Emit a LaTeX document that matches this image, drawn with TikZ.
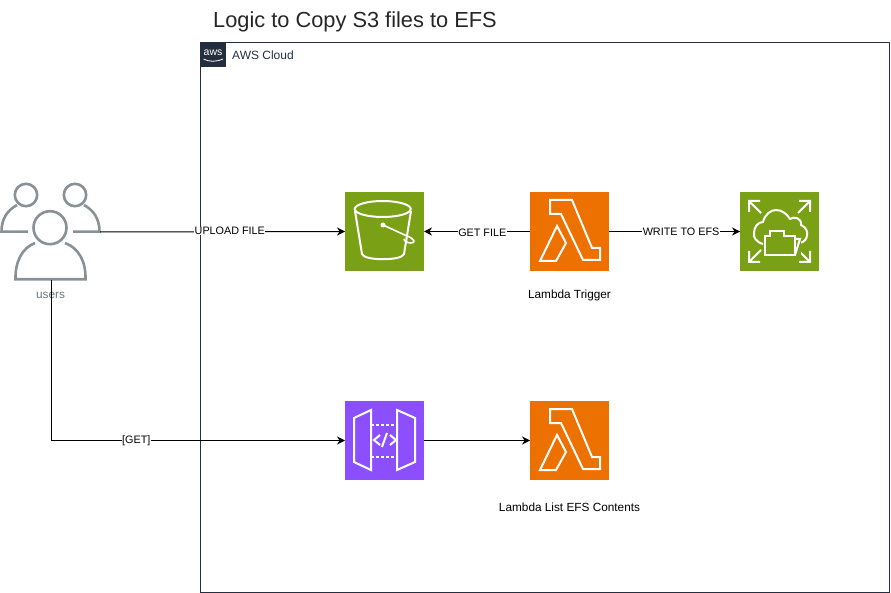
\documentclass[tikz,border=0pt]{standalone}
\usepackage{fontspec}
\setmainfont{Liberation Sans}
\usetikzlibrary{arrows.meta}
\definecolor{awsgreen}{HTML}{7AA116}
\definecolor{awsorange}{HTML}{ED7100}
\definecolor{awspurple}{HTML}{8C4FFF}
\definecolor{awsdark}{HTML}{232F3E}
\definecolor{usergray}{HTML}{879196}
\tikzset{
  iconbox/.style = {shape=rectangle, minimum size=79pt, inner sep=0pt, outer sep=0pt},
  iconline/.style = {draw=white, line width=2pt, line join=miter},
  userline/.style = {draw=usergray, line width=2.6pt},
  link/.style = {draw=black, line width=1pt, -{Stealth[length=8pt,width=8pt]}},
  linklabel/.style = {fill=white, inner sep=0.3pt, font=\fontsize{10.8}{12}\selectfont},
  bucketicon/.pic = {
    \draw[iconline] (37.7,17) ellipse [x radius=28, y radius=8];
    \draw[iconline] (10,19) -- (17,62) .. controls (19,69) and (57,69) .. (59,62) -- (66,19);
    \fill[white] (38,33) circle [radius=2.5];
    \draw[iconline, line width=1.6pt] (38,33) -- (62,44) .. controls (70,47) and (71,51) .. (66,51) .. controls (62,51) and (59,49) .. (59,47);
  },
  lambdaicon/.pic = {
    \draw[iconline] (20,8) -- (42,8) -- (62,56) -- (70,56) -- (70,68) -- (53,68) -- (31,22) -- (20,22) -- cycle;
    \draw[iconline] (10,69) -- (27,34) -- (36,51) -- (26,69) -- cycle;
  },
  efsicon/.pic = {
    \foreach \ang in {0,90,180,270}
      \draw[iconline, rotate around={\ang:(39.5,39.5)}] (21,21) -- (9,9) (9,20) -- (9,9) -- (20,9);
    \draw[iconline] (23,52) .. controls (16,50) and (13,45) .. (14,41) .. controls (14,35) and (18,30) .. (23,30)
      .. controls (25,22) and (31,18) .. (36,18) .. controls (42,18) and (47,22) .. (50,27)
      .. controls (54,24) and (62,26) .. (61,33) .. controls (66,35) and (68,40) .. (67,43)
      .. controls (67,47) and (64,50) .. (60,51);
    \fill[awsgreen] (24,38) rectangle (61,64);
    \draw[iconline] (25,63) -- (25,44) -- (30,44) -- (30,39) -- (44,39) -- (44,44) -- (55,44) -- (55,63) -- cycle;
    \draw[iconline] (55,47) -- (60,47) -- (55,63);
  },
  apiicon/.pic = {
    \draw[iconline] (26,9) -- (9,17) -- (9,61) -- (26,69) -- cycle;
    \draw[iconline] (52,9) -- (70,17) -- (70,61) -- (52,69) -- cycle;
    \draw[iconline, dash pattern=on 3pt off 2pt] (26,24) -- (52,24) (26,56) -- (52,56);
    \draw[iconline] (35,34) -- (29,39) -- (35,44) (45,34) -- (51,39) -- (45,44) (42,32) -- (37,46);
  },
}
\begin{document}
\begin{tikzpicture}[x=1pt, y=-1pt]
  \useasboundingbox (0,0) rectangle (891,593);
  \node[anchor=base west, inner sep=0pt, font=\fontsize{21.8}{24}\selectfont, text=black!85] (title) at (213,28) {Logic to Copy S3 files to EFS};

  % cloud frame
  \node[draw=awsdark, line width=1pt, minimum width=689pt, minimum height=549pt, inner sep=0pt, outer sep=0pt, anchor=north west] (cloud) at (200.5,43) {};
  \node[fill=awsdark, minimum width=25.5pt, minimum height=24.5pt, inner sep=0pt, outer sep=0pt, anchor=north west] (logo) at (cloud.north west) {};
  \node[text=white, inner sep=0pt, font=\fontsize{10.5}{11}\selectfont] (awstext) at (213,52.5) {aws};
  \draw[white, line width=0.8pt] (203.5,59) .. controls (209,62) and (216,62) .. (223,59);
  \node[anchor=west, inner sep=0pt, text=awsdark, font=\fontsize{12}{14}\selectfont] (cloudname) at (232,55.5) {AWS Cloud};

  % services
  \node[iconbox, fill=awsgreen, anchor=north west] (s3) at (345,192) {};
  \node[iconbox, fill=awsorange, anchor=north west] (trigger) at (530,192) {};
  \node[iconbox, fill=awsgreen, anchor=north west] (efs) at (740,192) {};
  \node[iconbox, fill=awspurple, anchor=north west] (api) at (345,401) {};
  \node[iconbox, fill=awsorange, anchor=north west] (listefs) at (530,401) {};
  \pic at (s3.north west) {bucketicon};
  \pic at (trigger.north west) {lambdaicon};
  \pic at (efs.north west) {efsicon};
  \pic at (api.north west) {apiicon};
  \pic at (listefs.north west) {lambdaicon};
  \node[font=\fontsize{11.8}{14}\selectfont, inner sep=0pt] (triggername) at (569.5,295) {Lambda Trigger};
  \node[font=\fontsize{11.8}{14}\selectfont, inner sep=0pt] (listname) at (569.5,507) {Lambda List EFS Contents};

  % users
  \node[minimum width=98pt, minimum height=96pt, inner sep=0pt, outer sep=0pt] (users) at (51,232) {};
  \draw[userline] (26,195) circle [radius=11.2] (75,195) circle [radius=11.2];
  \draw[userline] (28,231.7) -- (1.5,231.7) .. controls (1.5,218) and (8,210) .. (17,205);
  \draw[userline] (73,231.7) -- (99.5,231.7) .. controls (99.5,218) and (93,210) .. (84,205);
  \draw[userline] (35,243) .. controls (22,248) and (15,262) .. (15.5,279.3) -- (85.5,279.3) .. controls (86,262) and (79,248) .. (65,243);
  \fill[white] (50,227.7) circle [radius=16.5];
  \draw[userline] (50,227.7) circle [radius=16.5];
  \node[text=usergray!80!black, font=\fontsize{11.8}{14}\selectfont, inner sep=0pt] (usersname) at (50.5,295) {users};

  % connectors
  \draw[link] (users.east) -- node[linklabel, pos=.53, yshift=1pt] {UPLOAD FILE} (s3.west);
  \draw[link] (trigger.west) -- node[linklabel, pos=.45, yshift=-1pt] {GET FILE} (s3.east);
  \draw[link] (trigger.east) -- node[linklabel, pos=.55] {WRITE TO EFS} (efs.west);
  \draw[link] (users.south) |- node[linklabel, pos=.645] {[GET]} (api.west);
  \draw[link] (api.east) -- (listefs.west);
\end{tikzpicture}
\end{document}
